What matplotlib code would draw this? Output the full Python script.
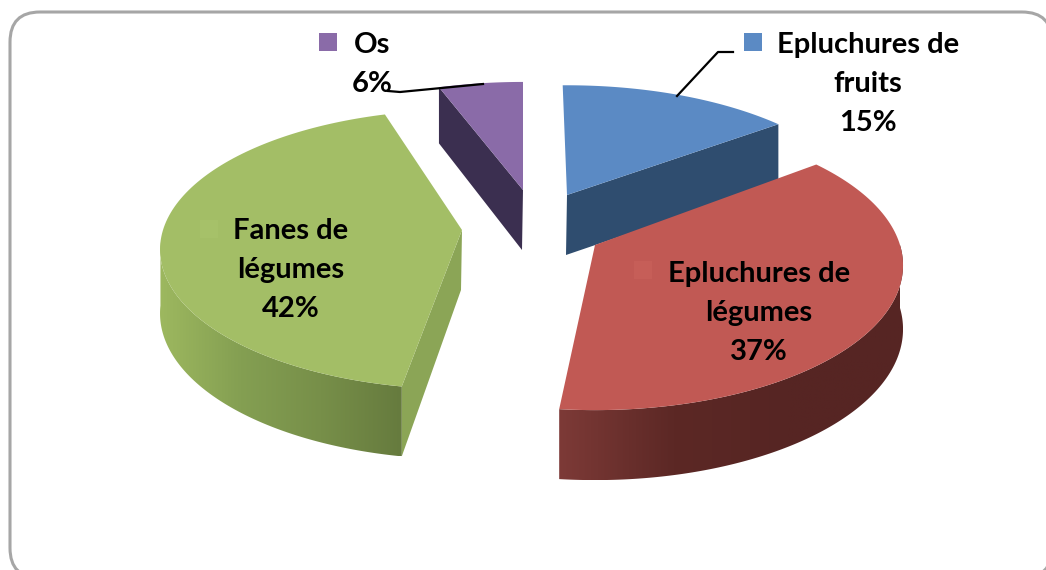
import numpy as np
import matplotlib
matplotlib.use("Agg")
import matplotlib.pyplot as plt
from matplotlib.colors import LinearSegmentedColormap
from matplotlib.patches import FancyBboxPatch, Polygon, Rectangle

plt.rcParams['font.family'] = ['Lato', 'DejaVu Sans']

names = ["Epluchures de\nfruits", "Epluchures de\nlégumes", "Fanes de\nlégumes", "Os"]
values = [15, 37, 42, 6]

top_colors = ['#5B8AC4', '#C15954', '#A3BE66', '#8A6BA8']
cut_colors = ['#2F4D6F', None, '#8BA556', '#3B2F50']

# exploded position of each slice tip, in pixels
apex_x = [567, 595, 462, 523]
apex_y = [195, 245, 230, 190]
# the reference's perspective differs a bit for each slice
radius = [297, 305, 299, 297]
flat = [132, 142, 137, 130]
persp = [0.203, 0.14, 0.14, 0.203]
start_shift = [-1, -2, 2.8, 1.9]
end_shift = [-1, -1.4, 4.6, 0]


def project(i, t):
    # t in degrees clockwise from 12 o'clock
    rad = np.radians(t)
    u, v = np.sin(rad), np.cos(rad)
    s = 1 / (1 + persp[i] * v)
    return apex_x[i] + radius[i] * u * s, apex_y[i] - flat[i] * v * s, s


def depth(s):
    return 20 + 43 * s


def draw_rim(ax, i, t0, t1, colors):
    ts = np.linspace(max(t0, 90), min(t1, 265), 150)
    x, y, s = project(i, ts)
    yb = y + depth(s)
    pts = list(zip(x, y)) + list(zip(x[::-1], yb[::-1]))
    shape = Polygon(pts, fc='none', ec='none', zorder=2)
    ax.add_patch(shape)
    cmap = LinearSegmentedColormap.from_list("rim", colors)
    grad = np.linspace(0, 1, 256).reshape(1, -1)
    im = ax.imshow(grad, cmap=cmap, aspect='auto', zorder=2,
                   extent=[x.min(), x.max(), yb.max(), y.min()])
    im.set_clip_path(shape)


def draw_cut(ax, i, t):
    x, y, s = project(i, t)
    x0, y0 = apex_x[i], apex_y[i]
    pts = [(x0, y0), (x, y), (x, y + depth(s)), (x0 - 1, y0 + 60)]
    ax.add_patch(Polygon(pts, fc=cut_colors[i], ec='none', zorder=2))


def draw_top(ax, i, t0, t1, zorder=3):
    ts = np.linspace(t0, t1, 120)
    x, y, _ = project(i, ts)
    pts = [(apex_x[i], apex_y[i])] + list(zip(x, y))
    ax.add_patch(Polygon(pts, fc=top_colors[i], ec='none', zorder=zorder))


def main():
    fig = plt.figure(figsize=(10.46, 5.70), dpi=100)
    ax = fig.add_axes([0, 0, 1, 1])

    ax.add_patch(FancyBboxPatch((10, 12), 1042, 566,
                                boxstyle="round,pad=0,rounding_size=30",
                                fc='white', ec='#A6A6A6', lw=2.2, zorder=0))

    edges = np.cumsum([0] + values) * 3.6
    for i in range(len(values)):
        t0 = edges[i] + start_shift[i]
        t1 = edges[i + 1] + end_shift[i]
        if i == 0:
            draw_cut(ax, i, t1)
        elif i in (2, 3):
            draw_cut(ax, i, t0)
        # the red slice lies over the blue wall
        draw_top(ax, i, t0, t1, zorder=4 if i == 1 else 3)

    draw_rim(ax, 1, edges[1] + start_shift[1], edges[2] + end_shift[1],
             ['#7D3A37', '#5C2825', '#562523', '#562523'])
    draw_rim(ax, 2, edges[2] + start_shift[2], edges[3] + end_shift[2],
             ['#9DB85F', '#849F52', '#778F49', '#667B3E'])

    # leader lines
    ax.plot([388, 400, 483], [91, 92, 84], color='black', lw=1.6, zorder=5)
    ax.plot([677, 718, 733], [96, 52, 52], color='black', lw=1.6, zorder=5)

    # legend keys next to the labels
    key_pos = [(744, 33), (634, 261), (200, 220), (319, 33)]
    key_col = ['#5B8AC4', '#C65E58', '#A6C169', '#8A6BA8']
    for (kx, ky), c in zip(key_pos, key_col):
        ax.add_patch(Rectangle((kx, ky), 18, 18, fc=c, ec='none', zorder=6))

    label_x = [868, 759, 291, 372]
    label_y = [[45, 84], [274, 313], [231, 270], [45]]
    for i, name in enumerate(names):
        lines = name.split("\n") + [f"{values[i]}%"]
        ys = label_y[i] + [label_y[i][-1] + 39]
        for line, y in zip(lines, ys):
            ax.text(label_x[i], y, line, ha='center', va='center',
                    fontsize=21, fontweight='bold', color='black', zorder=7)

    ax.set_xlim(0, 1046)
    ax.set_ylim(570, 0)
    ax.axis('off')
    fig.savefig("out.png", dpi=100)


if __name__ == "__main__":
    main()
